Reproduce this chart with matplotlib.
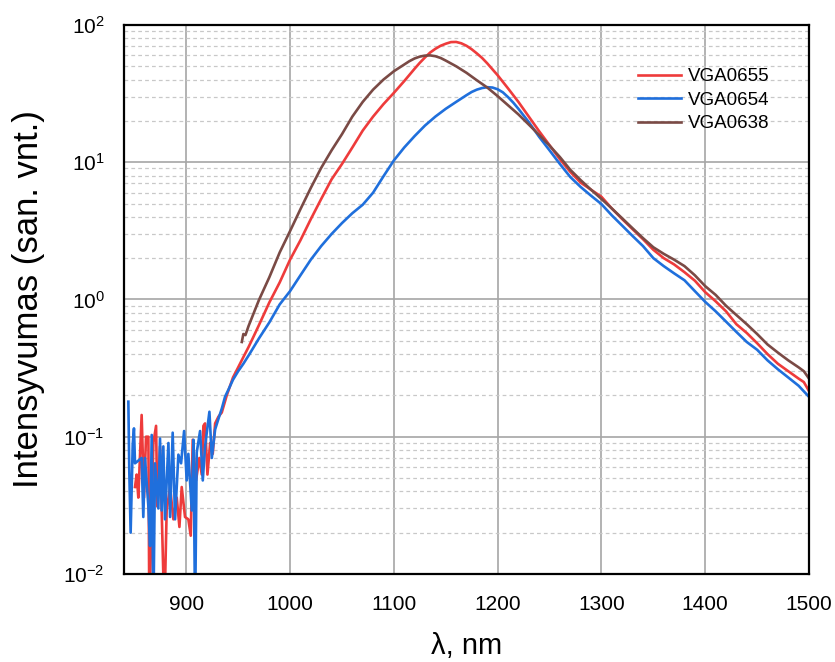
"""PL spectra of three VGA samples on a log intensity axis."""

import matplotlib
matplotlib.use('Agg')
import matplotlib.pyplot as plt
from matplotlib.ticker import LogLocator, MultipleLocator, NullFormatter

plt.rcParams['font.family'] = ['Liberation Sans', 'DejaVu Sans']
plt.rcParams['mathtext.fontset'] = 'custom'
plt.rcParams['mathtext.rm'] = 'Liberation Sans'
plt.rcParams['mathtext.it'] = 'Liberation Sans'

##
# DATA
labels = ['VGA0655', 'VGA0654', 'VGA0638']
colors = ['#ee3b3b', '#1f6fdc', '#7a4a45']

# VGA0655 (red)
wl_0655 = [850.6, 852.2, 853.8, 857.0, 859.3, 861.2, 863.5, 864.4, 868.3, 870.9,
           872.1, 874.7, 878.9, 881.1, 884.4, 887.6, 890.8, 893.4, 895.6, 898.8,
           902.0, 904.3, 906.2, 909.4, 912.6, 914.9, 916.5, 918.1, 920.4, 923.0,
           925.5, 927.8, 931.0, 934.2, 939.0, 945, 950, 955, 960, 965,
           970, 980, 990, 1000, 1010, 1020, 1030, 1040, 1050, 1060,
           1070, 1080, 1090, 1100, 1110, 1120, 1125, 1130, 1135, 1140,
           1145, 1150, 1155, 1160, 1165, 1170, 1175, 1180, 1185, 1190,
           1200, 1210, 1220, 1230, 1240, 1250, 1260,
           1270, 1280, 1290, 1300, 1310, 1320, 1330, 1340, 1350, 1360,
           1370, 1380, 1390, 1400, 1410, 1420, 1430, 1440, 1450, 1460,
           1470, 1480, 1490, 1495, 1500]
int_0655 = [0.043, 0.053, 0.036, 0.144, 0.036, 0.10, 0.10, 0.005, 0.09, 0.12,
            0.031, 0.085, 0.005, 0.029, 0.043, 0.025, 0.036, 0.022, 0.043, 0.026,
            0.025, 0.019, 0.095, 0.048, 0.07, 0.053, 0.12, 0.125, 0.053, 0.09,
            0.075, 0.125, 0.14, 0.15, 0.20, 0.27, 0.32, 0.38, 0.45, 0.54,
            0.65, 0.95, 1.33, 1.95, 2.7, 3.85, 5.4, 7.5, 9.7, 12.8,
            17.0, 21.5, 26.5, 32.0, 39.0, 48.0, 53.0, 58.0, 63.0, 67.0,
            70.5, 73.0, 75.0, 75.2, 73.5, 70.5, 66.5, 62.0, 57.5, 52.5,
            43.0, 34.5, 27.5, 21.5, 16.8, 13.3, 10.5,
            8.5, 7.1, 6.3, 5.6, 4.6, 3.85, 3.25, 2.75, 2.3, 2.0,
            1.8, 1.58, 1.37, 1.13, 0.97, 0.82, 0.66, 0.57, 0.48, 0.40,
            0.34, 0.30, 0.265, 0.25, 0.215]

# VGA0654 (blue)
wl_0654 = [844.2, 845.1, 846.4, 848.4, 849.6, 850.6, 857.0, 858.6, 860.2, 863.5,
           865.1, 866.7, 868.3, 869.9, 873.1, 874.7, 876.3, 877.9, 879.5, 882.8,
           884.4, 886.9, 889.2, 892.4, 895.0, 897.9, 900.4, 902.0, 905.3, 906.9,
           908.5, 910.1, 913.3, 915.9, 918.1, 922.3, 924.6, 927.8, 931.0, 934.2,
           937.4, 940.6, 945, 950, 955, 960, 965, 970, 980, 990,
           1000, 1010, 1020, 1030, 1040, 1050, 1060, 1070, 1080, 1090,
           1100, 1110, 1120, 1130, 1140, 1150, 1160, 1170, 1175, 1180,
           1185, 1190, 1195, 1200, 1205, 1210, 1215, 1220, 1230, 1240,
           1250, 1260, 1270, 1280, 1290,
           1300, 1310, 1320, 1330, 1340, 1350, 1360, 1370, 1380, 1390,
           1400, 1410, 1420, 1430, 1440, 1450, 1460, 1470, 1480, 1490,
           1500]
int_0654 = [0.18, 0.056, 0.02, 0.087, 0.115, 0.064, 0.07, 0.026, 0.07, 0.031,
            0.016, 0.103, 0.005, 0.064, 0.03, 0.097, 0.029, 0.085, 0.025, 0.09,
            0.026, 0.107, 0.025, 0.074, 0.064, 0.11, 0.048, 0.075, 0.029, 0.095,
            0.005, 0.077, 0.11, 0.048, 0.085, 0.152, 0.07, 0.113, 0.135, 0.16,
            0.196, 0.22, 0.26, 0.30, 0.34, 0.39, 0.45, 0.52, 0.68, 0.92,
            1.15, 1.5, 1.95, 2.45, 3.0, 3.6, 4.25, 4.9, 6.0, 7.9,
            10.3, 12.8, 15.5, 18.5, 21.5, 24.5, 27.5, 30.8, 32.5, 33.8,
            34.7, 35.2, 35.0, 34.0, 32.3, 29.8, 27.2, 24.5, 19.6, 15.3,
            12.2, 9.7, 7.8, 6.6, 5.7,
            4.95, 4.1, 3.45, 2.9, 2.45, 2.0, 1.75, 1.55, 1.38, 1.15,
            0.96, 0.82, 0.69, 0.58, 0.49, 0.43, 0.36, 0.31, 0.27, 0.235,
            0.195]

# VGA0638 (brown)
wl_0638 = [953.5, 955, 957, 960, 970, 980, 990, 1000, 1010, 1020,
           1030, 1040, 1050, 1060, 1070, 1080, 1090, 1100, 1110, 1115,
           1120, 1125, 1130, 1135, 1140, 1145, 1150, 1160, 1170, 1180,
           1190, 1200, 1210, 1220,
           1230, 1240, 1250, 1260, 1270, 1280, 1290, 1300, 1310, 1320,
           1330, 1340, 1350, 1360, 1370, 1380, 1390, 1400, 1410, 1420,
           1430, 1440, 1450, 1460, 1470, 1480, 1490, 1495, 1500]
int_0638 = [0.49, 0.56, 0.55, 0.64, 0.99, 1.45, 2.2, 3.15, 4.55, 6.5,
            9.1, 12.2, 16.0, 21.5, 27.5, 33.8, 40.0, 46.0, 51.5, 54.5,
            57.0, 58.8, 59.8, 60.0, 59.2, 57.5, 55.0, 50.0, 44.8, 39.5,
            35.0, 30.3, 26.0, 22.3,
            18.8, 15.8, 13.2, 10.9, 8.8, 7.4, 6.3, 5.4, 4.6, 3.9,
            3.3, 2.8, 2.4, 2.15, 1.95, 1.75, 1.5, 1.25, 1.08, 0.9,
            0.77, 0.66, 0.56, 0.47, 0.41, 0.36, 0.32, 0.30, 0.265]

series = [(wl_0655, int_0655), (wl_0654, int_0654), (wl_0638, int_0638)]

##
fig = plt.figure(figsize=(8.35, 6.62), dpi=100)
ax = fig.add_axes([0.1485, 0.133, 0.8204, 0.8293])

for (wl, inten), lab, col in zip(series, labels, colors):
    ax.plot(wl, inten, color=col, lw=1.9, label=lab)

ax.set_yscale('log')
ax.set_xlim(840, 1500)
ax.set_ylim(1e-2, 1e2)
ax.xaxis.set_major_locator(MultipleLocator(100))
ax.yaxis.set_major_locator(LogLocator(base=10, numticks=10))
ax.yaxis.set_minor_locator(LogLocator(base=10, subs=range(2, 10), numticks=20))
ax.yaxis.set_minor_formatter(NullFormatter())

ax.grid(which='major', color='#a6a6a6', lw=1.2, ls='-')
ax.grid(which='minor', axis='y', color='#c8c8c8', lw=0.9, ls=(0, (3, 2.5)))
ax.set_axisbelow(True)

for sp in ax.spines.values():
    sp.set_linewidth(1.6)
ax.tick_params(which='both', length=0)
ax.tick_params(axis='x', labelsize=15, pad=15)
ax.tick_params(axis='y', labelsize=15, pad=14)

ax.set_xlabel('λ, nm', fontsize=21)
ax.set_ylabel('Intensyvumas (san. vnt.)', fontsize=25)
ax.xaxis.set_label_coords(0.5, -0.105)
ax.yaxis.set_label_coords(-0.115, 0.5)

ax.legend(loc='upper left', bbox_to_anchor=(0.726, 0.952), frameon=False,
          fontsize=13.5, handlelength=2.3, handletextpad=0.35, labelspacing=0.34)

fig.savefig('out.png', dpi=100)
